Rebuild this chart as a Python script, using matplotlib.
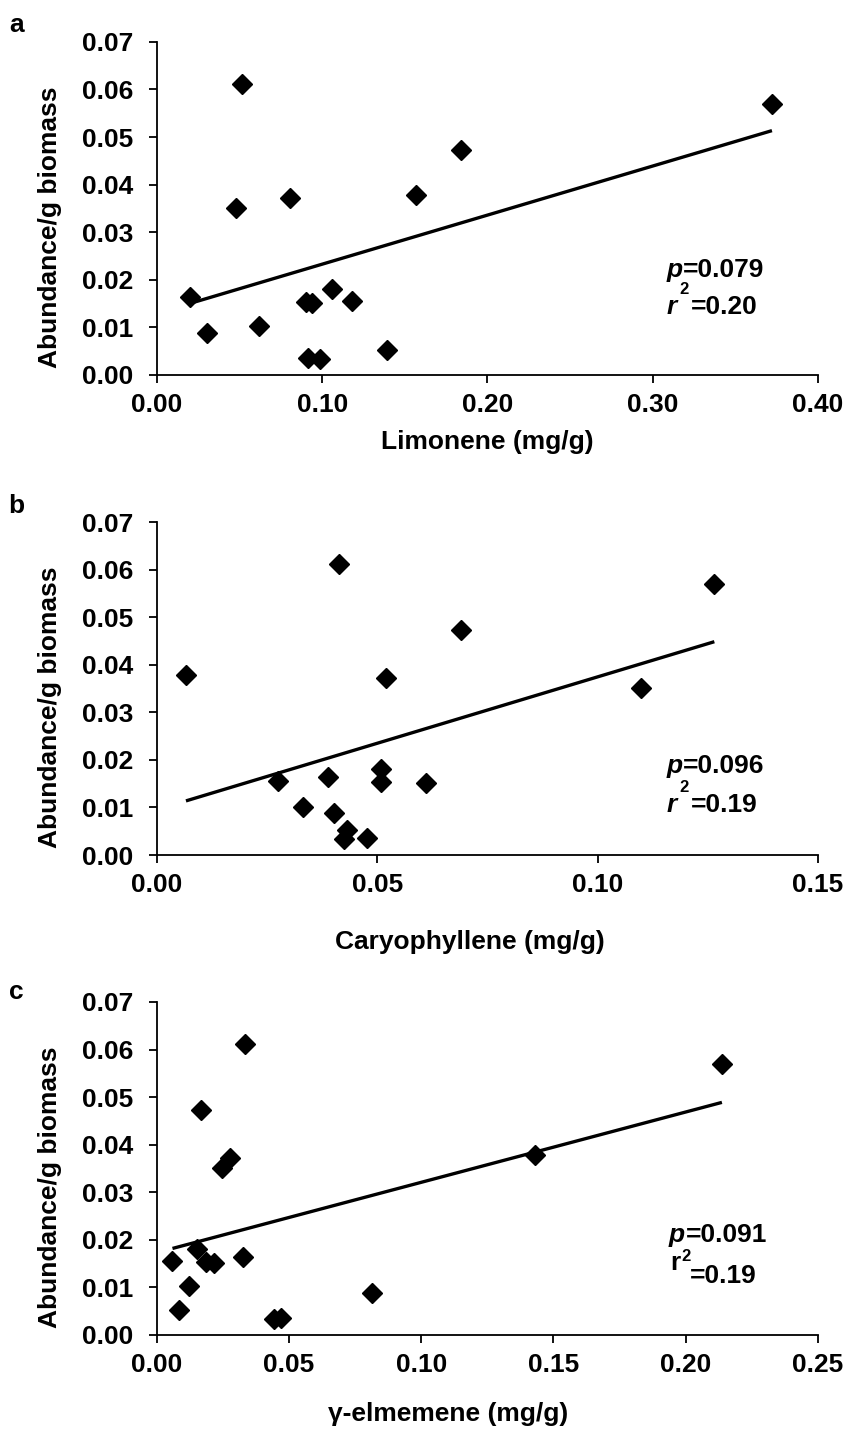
import matplotlib
matplotlib.use("Agg")
import matplotlib.pyplot as plt
import numpy as np

plt.rcParams["font.family"] = "Liberation Sans"
plt.rcParams["font.weight"] = "bold"

# same 16 samples in every panel
abundance = [0.0163, 0.0089, 0.0612, 0.0351, 0.0102, 0.0372, 0.0153, 0.0151,
             0.0035, 0.0034, 0.0180, 0.0156, 0.0053, 0.0379, 0.0473, 0.0570]
limonene = [0.0203, 0.0304, 0.0513, 0.0480, 0.0620, 0.0807, 0.0905, 0.0938,
            0.0915, 0.0987, 0.1062, 0.1183, 0.1395, 0.1565, 0.1843, 0.3722]
caryophyllene = [0.0388, 0.0401, 0.0413, 0.1099, 0.0331, 0.0520, 0.0509, 0.0611,
                 0.0476, 0.0424, 0.0509, 0.0275, 0.0432, 0.0066, 0.0691, 0.1265]
elemene = [0.0325, 0.0813, 0.0333, 0.0245, 0.0121, 0.0278, 0.0184, 0.0215,
           0.0470, 0.0444, 0.0151, 0.0059, 0.0084, 0.1431, 0.0168, 0.2137]

y_ticks = [0.00, 0.01, 0.02, 0.03, 0.04, 0.05, 0.06, 0.07]
xt_a = [0.00, 0.10, 0.20, 0.30, 0.40]
xt_b = [0.00, 0.05, 0.10, 0.15]
xt_c = [0.00, 0.05, 0.10, 0.15, 0.20, 0.25]

FS = 19
fig = plt.figure(figsize=(8.48, 14.31), dpi=100)


def panel(bottom, x, xticks, xlabel, xlab_pos, letter, letter_y, pval, r2, st, r_italic=True):
    ax = fig.add_axes([0.185, bottom, 0.7795, 0.2327])
    ax.plot(x, abundance, "D", color="black", ms=10, mec="black", zorder=3)
    k, b = np.polyfit(x, abundance, 1)
    xs = np.array([min(x), max(x)])
    ax.plot(xs, k * xs + b, color="black", lw=2.4, solid_capstyle="butt")

    ax.set_xlim(xticks[0], xticks[-1]); ax.set_ylim(0, 0.07)
    ax.set_xticks(xticks); ax.set_yticks(y_ticks)
    ax.set_xticklabels(["%.2f" % v for v in xticks])
    ax.set_yticklabels(["%.2f" % v for v in y_ticks])
    for s in ("top", "right"):
        ax.spines[s].set_visible(False)
    for s in ("left", "bottom"):
        ax.spines[s].set_linewidth(1.3)
    ax.tick_params(axis="y", direction="out", length=6, width=1.3, pad=11, labelsize=FS)
    ax.tick_params(axis="x", direction="out", length=6, width=1.3, pad=7, labelsize=FS)

    ax.set_xlabel(xlabel, fontsize=FS, fontweight="bold")
    ax.xaxis.set_label_coords(xlab_pos[0], xlab_pos[1])
    ax.set_ylabel("Abundance/g biomass", fontsize=FS, fontweight="bold")
    ax.yaxis.set_label_coords(-0.144, 0.444)

    fig.text(0.019, letter_y, letter, fontsize=FS, fontweight="bold", ha="center", va="center")

    # p / r2 box (Excel text box look)
    px, eqx, y1, rx, y2, sx, ys, ex, ye = st
    kw = dict(fontsize=FS, transform=ax.transAxes, va="baseline")
    ax.text(px, y1, "p", style="italic", **kw)
    ax.text(eqx, y1, "=" + pval, **kw)
    ax.text(rx, y2, "r", style="italic" if r_italic else "normal", **kw)
    ax.text(sx, ys, "2", fontsize=12, transform=ax.transAxes, va="center", ha="center")
    ax.text(ex, ye, "=" + r2, **kw)
    return ax


panel(0.738, limonene, xt_a, "Limonene (mg/g)", (0.500, -0.165), "a", 1 - 25 / 1431,
      "0.079", "0.20", (0.771, 0.796, 0.294, 0.771, 0.183, 0.797, 0.257, 0.808, 0.183))
panel(0.4025, caryophyllene, xt_b, "Caryophyllene (mg/g)", (0.473, -0.225), "b", 1 - 506 / 1431,
      "0.096", "0.19", (0.771, 0.796, 0.246, 0.771, 0.129, 0.797, 0.203, 0.808, 0.129))
panel(0.0671, elemene, xt_c, "γ-elmemene (mg/g)", (0.44, -0.201), "c", 1 - 992 / 1431,
      "0.091", "0.19", (0.774, 0.801, 0.279, 0.776, 0.195, 0.800, 0.237, 0.807, 0.156),
      r_italic=False)

fig.savefig("out.png", dpi=100)
